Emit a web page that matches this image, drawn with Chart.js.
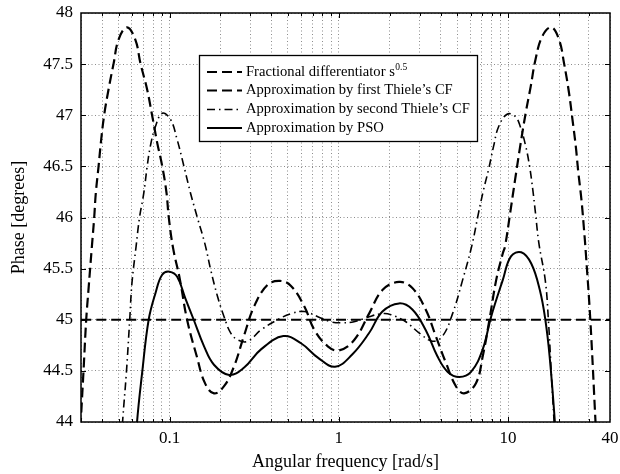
<!DOCTYPE html>
<html><head><meta charset="utf-8">
<script src="https://cdn.jsdelivr.net/npm/chart.js@4/dist/chart.umd.min.js"></script>
<style>html,body{margin:0;padding:0;background:#fff}</style>
</head><body>
<canvas id="c" width="620" height="474"></canvas>
<script>
// ---- data ----
const legendLabels = [
  'Fractional differentiator s',
  "Approximation by first Thiele\u2019s CF",
  "Approximation by second Thiele\u2019s CF",
  'Approximation by PSO'
];
const legendSuperscript = '0.5';

const xTickLabels = [0.1, 1, 10, 40];
const xGridValues = [0.03,0.04,0.05,0.06,0.07,0.08,0.09,
  0.1,0.2,0.3,0.4,0.5,0.6,0.7,0.8,0.9,
  1,2,3,4,5,6,7,8,9,10,20,30,40];
const xMajorTicks = [0.1, 1, 10];

const fracFreq  = [0.03, 40];
const fracPhase = [45, 45];

const thiele1Freq = [0.0295,0.0301,0.0310,0.0322,0.0332,0.0348,0.0359,0.0367,0.0381,0.0393,0.0411,0.0436,0.0468,0.0500,0.0561,
  0.0628,0.0673,0.0738,0.0789,0.0846,0.0906,0.0960,0.0990,0.105,0.115,0.127,0.145,0.162,0.183,
  0.21,0.24,0.275,0.316,0.379,0.449,0.522,0.626,0.718,0.861,1.0,1.23,1.51,1.81,2.27,2.72,3.26,3.74,4.29,4.92,5.5,
  6.46,7.08,7.76,8.51,9.31,9.6,10.3,11.0,11.8,12.7,13.6,14.5,15.9,18.0,20.0,21.4,22.9,24.0,25.1,26.0,27.1,28.1,28.8,30.6,32.8,34];
const thiele1Phase = [43.8,44.09,44.48,45.0,45.29,45.72,46.0,46.24,46.5,46.73,47.0,47.25,47.51,47.74,47.86,
  47.74,47.51,47.25,47.0,46.73,46.5,46.24,46.0,45.7,45.4,45.0,44.64,44.38,44.28,
  44.35,44.54,44.84,45.13,45.34,45.38,45.33,45.13,44.9,44.74,44.70,44.80,45.06,45.29,45.37,45.31,45.1,44.84,44.58,44.35,44.28,
  44.38,44.64,45.0,45.39,45.65,45.72,46.05,46.37,46.70,47.02,47.28,47.54,47.77,47.86,47.74,47.51,47.22,46.96,46.70,46.44,46.18,45.88,45.65,45.0,44.02,43.5];

const thiele2Freq = [0.0520,0.0529,0.0556,0.0582,0.0600,0.0635,0.0665,0.0705,0.0738,0.0771,0.0826,0.0905,0.1013,0.111,0.1217,0.133,0.146,0.162,
  0.175,0.192,0.21,0.23,0.255,0.29,0.347,0.435,0.522,0.626,0.752,0.90,1.02,1.23,1.51,1.81,2.03,2.49,2.99,3.58,4.1,4.7,5.39,
  6.1,6.7,7.16,7.67,8.22,8.8,9.87,11.0,11.8,12.7,13.4,14.0,14.5,15.2,16.6,17.3,18.0,18.7,19.2];
const thiele2Phase = [43.8,44.02,44.48,45.0,45.36,45.72,46.0,46.24,46.5,46.70,46.89,47.02,46.96,46.76,46.5,46.24,46.0,45.74,
  45.49,45.23,45.03,44.87,44.80,44.79,44.9,45.0,45.06,45.08,45.03,44.98,44.97,44.98,45.03,45.06,45.05,44.98,44.87,44.79,44.84,45.06,45.39,
  45.72,46.05,46.27,46.47,46.70,46.89,47.01,46.99,46.89,46.70,46.50,46.27,46.05,45.75,45.38,45.0,44.48,44.0,43.7];

const psoFreq = [0.0625,0.0643,0.0689,0.0753,0.0826,0.0905,0.100,0.111,0.124,0.139,0.160,0.183,0.225,0.275,0.347,0.47,0.598,0.752,0.95,1.2,
  1.51,1.81,2.27,2.72,3.26,3.83,4.4,5.15,6.04,7.08,7.94,9.31,10.4,11.96,13.7,15.4,16.6,17.6,18.9,19.3];
const psoPhase = [43.6,44.0,44.48,45.0,45.26,45.44,45.47,45.42,45.21,45.0,44.74,44.56,44.46,44.53,44.71,44.84,44.77,44.63,44.54,44.66,
  44.87,45.08,45.16,45.10,44.90,44.64,44.49,44.44,44.49,44.71,45.03,45.39,45.62,45.66,45.55,45.29,45.0,44.64,44.0,43.7];

// ---- chart ----
const FONT = '"Liberation Serif","Times New Roman",Times,serif';
const pts = (xs, ys) => xs.map((x, i) => ({x: x, y: ys[i]}));

const styles = [
  {dash: [10, 5], width: 2.2},
  {dash: [10, 5], width: 2.2},
  {dash: [8, 4, 1.5, 4], width: 1.6},
  {dash: [], width: 2}
];

const framePlugin = {
  id: 'frame',
  afterDatasetsDraw(chart) {
    const ctx = chart.ctx, a = chart.chartArea;
    const xs = chart.scales.x, ys = chart.scales.y;
    ctx.save();
    ctx.strokeStyle = '#000';
    ctx.lineWidth = 1;
    ctx.setLineDash([]);
    ctx.beginPath();
    xGridValues.forEach(v => {
      const px = Math.round(xs.getPixelForValue(v)) + 0.5;
      if (px <= a.left + 1 || px >= a.right - 1) return;
      const len = xMajorTicks.includes(v) ? 5 : 3;
      ctx.moveTo(px, a.bottom); ctx.lineTo(px, a.bottom - len);
      ctx.moveTo(px, a.top); ctx.lineTo(px, a.top + len);
    });
    ys.ticks.forEach(t => {
      const py = Math.round(ys.getPixelForValue(t.value)) + 0.5;
      if (py <= a.top + 1 || py >= a.bottom - 1) return;
      ctx.moveTo(a.left, py); ctx.lineTo(a.left + 5, py);
      ctx.moveTo(a.right, py); ctx.lineTo(a.right - 5, py);
    });
    ctx.stroke();
    ctx.lineWidth = 1.5;
    ctx.strokeRect(a.left, a.top, a.right - a.left, a.bottom - a.top);
    ctx.restore();
  }
};

const legendPlugin = {
  id: 'boxLegend',
  afterDraw(chart) {
    const ctx = chart.ctx, a = chart.chartArea;
    const bx = a.left + 118, by = a.top + 42, bw = 278, bh = 86;
    ctx.save();
    ctx.fillStyle = '#fff';
    ctx.fillRect(bx, by, bw, bh);
    ctx.strokeStyle = '#000';
    ctx.lineWidth = 1.3;
    ctx.setLineDash([]);
    ctx.strokeRect(bx + 0.5, by + 0.5, bw, bh);
    const rows = [17, 35.5, 54.5, 73];
    ctx.textBaseline = 'middle';
    ctx.fillStyle = '#000';
    legendLabels.forEach((lab, i) => {
      const y = by + rows[i];
      ctx.beginPath();
      ctx.setLineDash(styles[i].dash);
      ctx.lineWidth = styles[i].width;
      ctx.moveTo(bx + 8, y); ctx.lineTo(bx + 43, y);
      ctx.stroke();
      ctx.setLineDash([]);
      ctx.font = '14.6px ' + FONT;
      ctx.fillText(lab, bx + 47, y);
      if (i === 0) {
        const w = ctx.measureText(lab).width;
        ctx.font = '9.5px ' + FONT;
        ctx.fillText(legendSuperscript, bx + 47 + w + 0.5, y - 5);
      }
    });
    ctx.restore();
  }
};

const datasets = [
  pts(fracFreq, fracPhase),
  pts(thiele1Freq, thiele1Phase),
  pts(thiele2Freq, thiele2Phase),
  pts(psoFreq, psoPhase)
].map((d, i) => ({
  label: legendLabels[i],
  data: d,
  borderColor: '#000',
  borderWidth: styles[i].width,
  borderDash: styles[i].dash,
  pointRadius: 0,
  fill: false,
  tension: 0.4,
  clip: 0
}));

const noPad = s => { s.paddingLeft = 0; s.paddingRight = 0; s.paddingTop = 0; s.paddingBottom = 0; };

new Chart(document.getElementById('c'), {
  type: 'line',
  data: {datasets: datasets},
  options: {
    responsive: false,
    animation: false,
    devicePixelRatio: 1,
    layout: {padding: {top: 13, right: 10, left: 0, bottom: 0}},
    plugins: {legend: {display: false}, tooltip: {enabled: false}},
    scales: {
      x: {
        type: 'logarithmic',
        min: 0.03, max: 40,
        afterBuildTicks: s => { s.ticks = xGridValues.map(v => ({value: v})); },
        afterFit: s => { s.height = 52; noPad(s); },
        ticks: {
          autoSkip: false, maxRotation: 0, minRotation: 0, padding: 6, color: '#000',
          font: {family: FONT, size: 17},
          callback: v => xTickLabels.includes(v) ? String(v) : ''
        },
        grid: {color: 'rgba(0,0,0,0.45)', lineWidth: 1, drawTicks: false},
        border: {display: false, dash: [1, 2.5]},
        title: {display: true, text: 'Angular frequency [rad/s]', color: '#000',
          font: {family: FONT, size: 18}, padding: {top: 0, bottom: 1}}
      },
      y: {
        min: 44, max: 48,
        afterFit: s => { s.width = 81; noPad(s); },
        ticks: {stepSize: 0.5, padding: 8, color: '#000',
          font: {family: FONT, size: 17},
          callback: v => String(v)},
        grid: {color: 'rgba(0,0,0,0.45)', lineWidth: 1, drawTicks: false},
        border: {display: false, dash: [1, 2.5]},
        title: {display: true, text: 'Phase [degrees]', color: '#000',
          font: {family: FONT, size: 18}, padding: {top: 8, bottom: 0}}
      }
    }
  },
  plugins: [framePlugin, legendPlugin]
});
</script>
</body></html>
